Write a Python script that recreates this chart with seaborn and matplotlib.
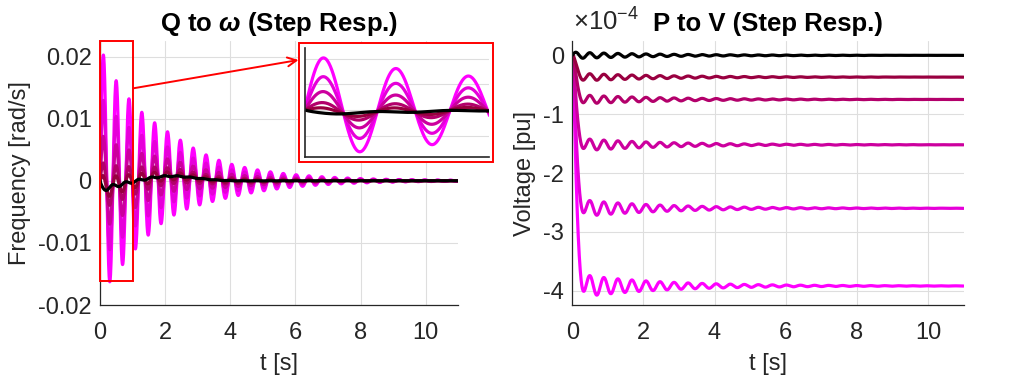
import numpy as np
import pandas as pd
import matplotlib
matplotlib.use("Agg")
import matplotlib.pyplot as plt
import seaborn as sns
from matplotlib.patches import Rectangle
from matplotlib.ticker import FuncFormatter

# ---------------- data ----------------
curve_names = ["c6", "c5", "c4", "c3", "c2", "c1"]          # drawn magenta -> black
curve_colors = ["#FF00FF", "#E600D9", "#CC009E", "#B3006B", "#990040", "#000000"]
# relative gain of each curve (same family in both panels)
rel_gain = [1.0, 0.66, 0.39, 0.19, 0.094, 0.0]
# Q -> omega : oscillation peak gain [rad/s]
omega_gain = 0.0198
# P -> V : settled values [pu]
v_final = [-3.92e-4, -2.60e-4, -1.52e-4, -0.75e-4, -0.37e-4, 0.0]
# response parameters
period_s = 0.395          # oscillation period
omega_decay = 0.5         # envelope decay of the frequency oscillation
omega_asym = 0.15         # asymmetry of positive / negative lobes
omega_asym_decay = 1.5
base_dip = -0.0012        # black trace (zero-gain) initial dip
base_wiggle = -0.0004
base_hump = 0.0009        # black trace slow hump around t = 2.1 s
v_rise_tau = 0.055        # voltage rise time constant
v_osc = 0.04              # relative voltage ringing
v_osc_decay = 0.45
v_base_osc = 0.055e-4     # black trace ringing in voltage
t_end = 11.0

xticks = [0, 2, 4, 6, 8, 10]
yticks_w = [-0.02, -0.01, 0.0, 0.01, 0.02]
yticks_v = [-4e-4, -3e-4, -2e-4, -1e-4, 0.0]

# ---------------- build responses ----------------
t = np.linspace(0, t_end, 2751)
w = 2 * np.pi / period_s
s_w = np.exp(-omega_decay * t) * np.sin(w * t) + omega_asym * np.exp(-omega_asym_decay * t) * (1 - np.cos(w * t))
m_w = (base_dip * (1 - np.exp(-t / 0.06)) * np.exp(-t / 0.7)
       + base_wiggle * np.exp(-t / 1.5) * (1 - np.cos(w * t))
       + base_hump * np.exp(-0.5 * ((t - 2.1) / 0.8) ** 2) * (1 - np.exp(-t / 0.3)))
r_v = 1 - np.exp(-t / v_rise_tau) * (1 + t / v_rise_tau) - v_osc * np.exp(-v_osc_decay * t) * np.sin(w * t)
n_v = v_base_osc * np.exp(-0.4 * t) * np.sin(w * t)

rows_w, rows_v = [], []
for name, g, vf in zip(curve_names, rel_gain, v_final):
    rows_w.append(pd.DataFrame({"t": t, "y": m_w + g * omega_gain * s_w, "curve": name}))
    rows_v.append(pd.DataFrame({"t": t, "y": n_v + vf * r_v, "curve": name}))
df_w = pd.concat(rows_w, ignore_index=True)
df_v = pd.concat(rows_v, ignore_index=True)

# ---------------- styling ----------------
sns.set_theme(style="white")
plt.rcParams["font.family"] = ["Liberation Sans", "DejaVu Sans"]
plt.rcParams["mathtext.fontset"] = "custom"
plt.rcParams["mathtext.rm"] = "Liberation Sans"
plt.rcParams["mathtext.it"] = "Liberation Sans:italic:bold"
plt.rcParams["mathtext.bf"] = "Liberation Sans:bold"
plt.rcParams["axes.unicode_minus"] = False

AX = "#262626"
FS = 17
FT = 18.5
W, H = 1011, 379
fig = plt.figure(figsize=(W / 100, H / 100), dpi=100)

def fbox(x0, x1, ytop, ybot):
    return [x0 / W, (H - ybot) / H, (x1 - x0) / W, (ybot - ytop) / H]

ax1 = fig.add_axes(fbox(100, 458.3, 41, 305))
ax2 = fig.add_axes(fbox(572.3, 963.5, 41, 305))

def style(ax):
    for s in ["top", "right"]:
        ax.spines[s].set_visible(False)
    for s in ["left", "bottom"]:
        ax.spines[s].set_color(AX)
        ax.spines[s].set_linewidth(0.9)
    ax.tick_params(direction="in", length=4, width=0.8, color=AX, labelcolor=AX, labelsize=FS)
    ax.tick_params(axis="x", pad=12)
    ax.tick_params(axis="y", pad=6)
    ax.grid(True, color="#dedede", lw=0.8)
    ax.set_axisbelow(True)

pal = dict(zip(curve_names, curve_colors))

sns.lineplot(data=df_w, x="t", y="y", hue="curve", hue_order=curve_names, palette=pal,
             linewidth=2.3, legend=False, estimator=None, sort=False, ax=ax1)
ax1.set_xlim(0, t_end)
ax1.set_ylim(-0.02, 0.0225)
ax1.set_xticks(xticks)
ax1.set_yticks(yticks_w)
ax1.yaxis.set_major_formatter(FuncFormatter(lambda v, p: "0" if abs(v) < 1e-12 else f"{v:.2f}"))
style(ax1)
ax1.set_xlabel("t [s]", fontsize=FS, color=AX, labelpad=7)
ax1.set_ylabel("Frequency [rad/s]", fontsize=FS, color=AX, labelpad=5)
ax1.set_title(r"Q to $\omega$ (Step Resp.)", fontsize=FT, fontweight="bold", color="black", pad=7)
ax1.add_patch(Rectangle((0, -0.0162), 1.0, 0.0387, fill=False, ec="red", lw=1.4, clip_on=False, zorder=5))

sns.lineplot(data=df_v, x="t", y="y", hue="curve", hue_order=curve_names, palette=pal,
             linewidth=2.3, legend=False, estimator=None, sort=False, ax=ax2)
ax2.set_xlim(0, t_end)
ax2.set_ylim(-4.244e-4, 0.244e-4)
ax2.set_xticks(xticks)
ax2.set_yticks(yticks_v)
ax2.yaxis.set_major_formatter(FuncFormatter(lambda v, p: f"{int(round(v * 1e4))}"))
style(ax2)
ax2.set_xlabel("t [s]", fontsize=FS, color=AX, labelpad=7)
ax2.set_ylabel("Voltage [pu]", fontsize=FS, color=AX, labelpad=5)
ax2.set_title("P to V (Step Resp.)", fontsize=FT, fontweight="bold", color="black", pad=7)
ax2.text(0.003, 1.02, r"×$\mathregular{10^{-4}}$", transform=ax2.transAxes, ha="left", va="bottom",
         fontsize=18.5, color=AX)

# inset frame + inset
frame = Rectangle((299 / W, (H - 162) / H), 194 / W, 119 / H, transform=fig.transFigure,
                  fc="white", ec="red", lw=1.4, zorder=3)
fig.add_artist(frame)
axin = fig.add_axes(fbox(304.5, 488.7, 48, 157))
axin.set_zorder(4)
sns.lineplot(data=df_w, x="t", y="y", hue="curve", hue_order=curve_names, palette=pal,
             linewidth=2.3, legend=False, estimator=None, sort=False, ax=axin)
axin.set_xlim(0, 1.0)
axin.set_ylim(-0.0183, 0.0241)
axin.set_yticks([-0.01, 0.0, 0.01, 0.02])
axin.set_xticks([])
axin.set_yticklabels([])
axin.set_xlabel("")
axin.set_ylabel("")
for s in ["top", "right"]:
    axin.spines[s].set_visible(False)
for s in ["left", "bottom"]:
    axin.spines[s].set_color(AX)
    axin.spines[s].set_linewidth(1.2)
axin.tick_params(direction="in", length=3, color=AX)
axin.grid(True, axis="y", color="#dedede", lw=0.8)
axin.set_axisbelow(True)

ax1.annotate("", xy=(298.5, H - 60), xytext=(133.3, H - 88.3), xycoords="figure pixels",
             textcoords="figure pixels", annotation_clip=False,
             arrowprops=dict(arrowstyle="->", color="red", lw=1.4, mutation_scale=16, shrinkA=0, shrinkB=0))

fig.savefig("out.png", dpi=100)
